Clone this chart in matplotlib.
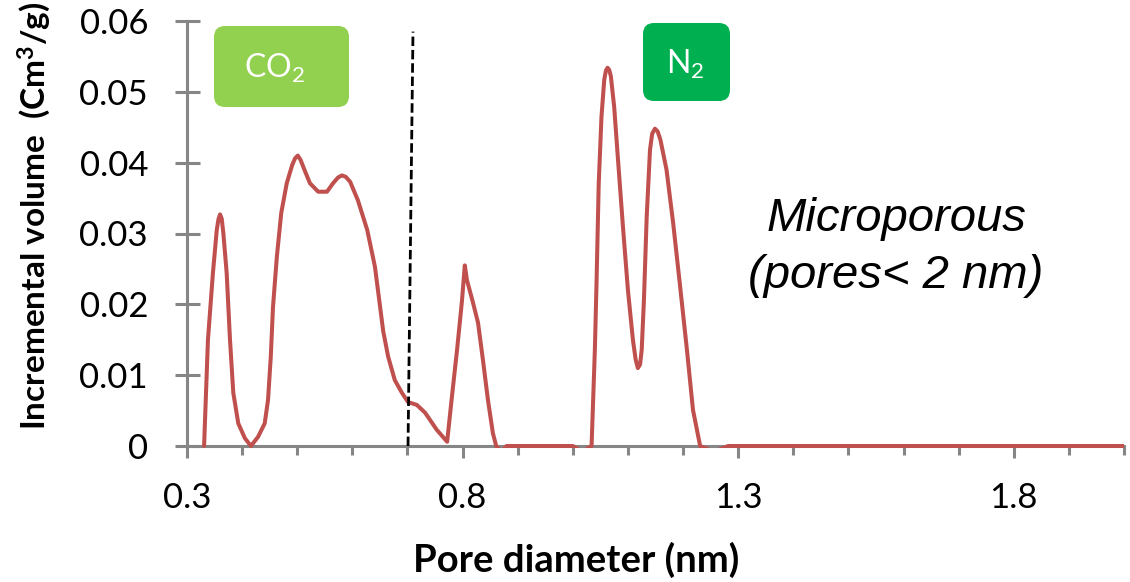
import matplotlib
matplotlib.use("Agg")
import matplotlib.pyplot as plt
from matplotlib.patches import FancyBboxPatch, Rectangle
from matplotlib.ticker import FixedLocator

plt.rcParams['font.family'] = ['Lato', 'DejaVu Sans']
plt.rcParams['mathtext.default'] = 'regular'

# Pore size distribution (incremental pore volume vs. pore diameter)
pore_nm = [0.331, 0.338, 0.347, 0.354, 0.357, 0.360, 0.363, 0.366, 0.372, 0.378,
           0.384, 0.393, 0.405, 0.416, 0.429, 0.441, 0.447, 0.452, 0.456, 0.463,
           0.471, 0.481, 0.491, 0.496, 0.501, 0.506, 0.511, 0.523, 0.538, 0.554,
           0.565, 0.574, 0.581, 0.588, 0.596, 0.610, 0.627, 0.641, 0.656, 0.665,
           0.677, 0.690, 0.701, 0.717, 0.732, 0.753, 0.772, 0.780, 0.790, 0.799,
           0.804, 0.808, 0.819, 0.828, 0.837, 0.846, 0.855, 0.861, 0.870, 0.880,
           1.000, 1.017, 1.034, 1.040, 1.043, 1.047, 1.052, 1.057, 1.060, 1.063,
           1.066, 1.069, 1.075, 1.082, 1.091, 1.100, 1.109, 1.114, 1.118, 1.122,
           1.125, 1.129, 1.134, 1.140, 1.144, 1.149, 1.154, 1.159, 1.170, 1.182,
           1.194, 1.207, 1.218, 1.231, 1.256, 1.282, 2.000]
volume = [0.0, 0.0150, 0.0244, 0.0305, 0.0320, 0.0327, 0.0321, 0.0300, 0.0244, 0.0150,
          0.0075, 0.0032, 0.0011, 0.0, 0.0013, 0.0032, 0.0065, 0.0126, 0.0196, 0.0267,
          0.0329, 0.0371, 0.0397, 0.0406, 0.0410, 0.0404, 0.0394, 0.0371, 0.0359, 0.0359,
          0.0371, 0.0379, 0.0382, 0.0380, 0.0373, 0.0347, 0.0305, 0.0253, 0.0162, 0.0126,
          0.0093, 0.0075, 0.0062, 0.0058, 0.0047, 0.0023, 0.0006, 0.0065, 0.0136, 0.0206,
          0.0255, 0.0234, 0.0202, 0.0174, 0.0121, 0.0065, 0.0018, 0.0, -0.0008, 0.0,
          0.0, -0.0008, 0.0, 0.0136, 0.0230, 0.0371, 0.0465, 0.0517, 0.0530, 0.0534,
          0.0531, 0.0522, 0.0479, 0.0404, 0.0309, 0.0220, 0.0150, 0.0122, 0.0110, 0.0115,
          0.0136, 0.0206, 0.0323, 0.0418, 0.0441, 0.0448, 0.0444, 0.0432, 0.0390, 0.0315,
          0.0230, 0.0136, 0.0051, 0.0, -0.0008, 0.0, 0.0]

# CO2 / N2 analysis boundary
boundary_x = [0.701, 0.710]
boundary_y = [0.0, 0.0585]

x_major = [0.3, 0.8, 1.3, 1.8]
x_major_labels = ['0.3', '0.8', '1.3', '1.8']
x_minor = [0.4, 0.5, 0.6, 0.7, 0.9, 1.0, 1.1, 1.2, 1.4, 1.5, 1.6, 1.7, 1.9, 2.0]
y_ticks = [0.0, 0.01, 0.02, 0.03, 0.04, 0.05, 0.06]
y_tick_labels = ['0', '0.01', '0.02', '0.03', '0.04', '0.05', '0.06']

LINE_RED = '#C0504D'
AXIS_GRAY = '#868686'
CO2_GREEN = '#92D050'
N2_GREEN = '#00B050'

W, H = 1130, 582
fig = plt.figure(figsize=(W / 100, H / 100), dpi=100)
ax = fig.add_axes([187 / W, (H - 446) / H, (1124 - 187) / W, 425 / H])

ax.set_xlim(0.3, 2.0)
ax.set_ylim(0.0, 0.06)

line, = ax.plot(pore_nm, volume, color=LINE_RED, lw=2.9, zorder=3,
                solid_joinstyle='round', solid_capstyle='round')
line.set_clip_path(Rectangle((0, -0.004), 1, 1.01, transform=ax.transAxes))

ax.plot(boundary_x, boundary_y, color='black', lw=2.0, dashes=(3.4, 1.4),
        zorder=4, clip_on=False)

for side in ('top', 'right'):
    ax.spines[side].set_visible(False)
for side in ('left', 'bottom'):
    ax.spines[side].set_color(AXIS_GRAY)
    ax.spines[side].set_linewidth(2.2)

ax.xaxis.set_major_locator(FixedLocator(x_major))
ax.xaxis.set_minor_locator(FixedLocator(x_minor))
ax.set_xticklabels(x_major_labels)
ax.yaxis.set_major_locator(FixedLocator(y_ticks))
ax.set_yticklabels(y_tick_labels)

ax.tick_params(axis='x', which='major', direction='out', length=8.6, width=2.2,
               color=AXIS_GRAY, labelsize=25, pad=17)
ax.tick_params(axis='x', which='minor', direction='out', length=6.4, width=2.2,
               color=AXIS_GRAY)
ax.tick_params(axis='y', which='major', direction='inout', length=18, width=2.2,
               color=AXIS_GRAY, labelsize=25, pad=19)

fig.text(576 / W, (H - 560) / H, 'Pore diameter (nm)', ha='center', va='center',
         fontsize=27.5, fontweight='bold')
fig.text(34 / W, (H - 216) / H, r'Incremental volume  (Cm$^{3}$/g)', ha='center',
         va='center', rotation=90, fontsize=24, fontweight='bold')

# Gas labels in rounded boxes (positions in inches)
def gas_box(x0, y0, x1, y1, color):
    patch = FancyBboxPatch((x0 / 100, (H - y1) / 100), (x1 - x0) / 100, (y1 - y0) / 100,
                           boxstyle='round,pad=0,rounding_size=0.11',
                           transform=fig.dpi_scale_trans, fc=color, ec='none')
    fig.add_artist(patch)

gas_box(214, 26, 349, 107, CO2_GREEN)
gas_box(643, 23, 730, 101, N2_GREEN)
fig.text(275 / W, (H - 78) / H, r'CO$_{2}$', ha='center', va='baseline',
         color='white', fontsize=23)
fig.text(685 / W, (H - 74) / H, r'N$_{2}$', ha='center', va='baseline',
         color='white', fontsize=23)

fig.text(896 / W, (H - 231) / H, 'Microporous', ha='center', va='baseline',
         fontsize=34, style='italic', family='Liberation Sans')
fig.text(896 / W, (H - 288) / H, '(pores< 2 nm)', ha='center', va='baseline',
         fontsize=34, style='italic', family='Liberation Sans')

fig.savefig('out.png', dpi=100)
